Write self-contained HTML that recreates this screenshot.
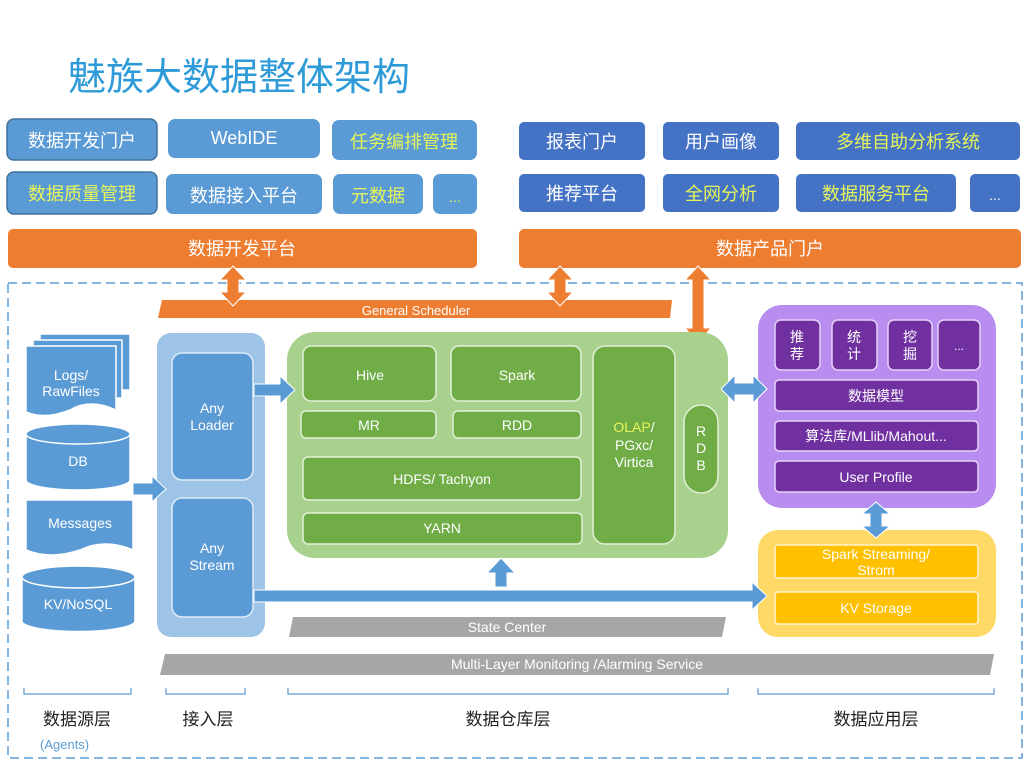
<!DOCTYPE html>
<html><head><meta charset="utf-8"><style>
html,body{margin:0;padding:0;background:#fff;width:1024px;height:768px;overflow:hidden}
svg text{font-family:"Liberation Sans","Noto Sans CJK SC",sans-serif}
</style></head><body>
<svg width="1024" height="768" viewBox="0 0 1024 768" xmlns="http://www.w3.org/2000/svg">
<text x="68" y="90" font-size="38" fill="#2e9ad8">魅族大数据整体架构</text>

<g font-size="18" text-anchor="middle">
<rect x="7" y="119" width="150" height="41" rx="7" fill="#5b9bd5" stroke="#41719c" stroke-width="1.5"/>
<text x="82" y="147" fill="#fff">数据开发门户</text>
<rect x="168" y="119" width="152" height="39" rx="7" fill="#5b9bd5"/>
<text x="244" y="144" fill="#fff">WebIDE</text>
<rect x="332" y="120" width="145" height="40" rx="7" fill="#5b9bd5"/>
<text x="404" y="148" fill="#e6f55a">任务编排管理</text>
<rect x="7" y="172" width="150" height="42" rx="7" fill="#5b9bd5" stroke="#41719c" stroke-width="1.5"/>
<text x="82" y="200" fill="#e6f55a">数据质量管理</text>
<rect x="166" y="174" width="156" height="40" rx="7" fill="#5b9bd5"/>
<text x="244" y="202" fill="#fff">数据接入平台</text>
<rect x="333" y="174" width="90" height="40" rx="7" fill="#5b9bd5"/>
<text x="378" y="202" fill="#e6f55a">元数据</text>
<rect x="433" y="174" width="44" height="40" rx="7" fill="#5b9bd5"/>
<text x="455" y="202" fill="#e6f55a" font-size="14">...</text>

<rect x="519" y="122" width="126" height="38" rx="5" fill="#4472c4"/>
<text x="582" y="148" fill="#fff">报表门户</text>
<rect x="663" y="122" width="116" height="38" rx="5" fill="#4472c4"/>
<text x="721" y="148" fill="#fff">用户画像</text>
<rect x="796" y="122" width="224" height="38" rx="5" fill="#4472c4"/>
<text x="908" y="148" fill="#e6f55a">多维自助分析系统</text>
<rect x="519" y="174" width="126" height="38" rx="5" fill="#4472c4"/>
<text x="582" y="200" fill="#fff">推荐平台</text>
<rect x="663" y="174" width="116" height="38" rx="5" fill="#4472c4"/>
<text x="721" y="200" fill="#e6f55a">全网分析</text>
<rect x="796" y="174" width="160" height="38" rx="5" fill="#4472c4"/>
<text x="876" y="200" fill="#e6f55a">数据服务平台</text>
<rect x="970" y="174" width="50" height="38" rx="5" fill="#4472c4"/>
<text x="995" y="200" fill="#fff" font-size="14">...</text>

<rect x="8" y="229" width="469" height="39" rx="5" fill="#ed7d31"/>
<text x="242" y="255" fill="#fff">数据开发平台</text>
<rect x="519" y="229" width="502" height="39" rx="5" fill="#ed7d31"/>
<text x="770" y="255" fill="#fff">数据产品门户</text>
</g>

<rect x="8" y="283" width="1014" height="475" fill="none" stroke="#5b9bd5" stroke-width="1.5" stroke-dasharray="9,5"/>

<polygon points="162,300 672,300 670,318 158,318" fill="#ed7d31"/>
<text x="416" y="315" font-size="13" fill="#fff" text-anchor="middle">General Scheduler</text>

<g fill="#ed7d31" stroke="#fff" stroke-width="1">
<polygon points="233,266 246,280 239,280 239,292 246,292 233,306 220,292 227,292 227,280 220,280"/>
<polygon points="560,266 573,280 566,280 566,292 573,292 560,306 547,292 554,292 554,280 547,280"/>
<polygon points="698,266 711,280 704,280 704,328 711,328 698,343 685,328 692,328 692,280 685,280"/>
</g>

<g fill="#5b9bd5" stroke="#fff" stroke-width="1.5">
<path d="M40,334 H130 V390 H40 Z"/>
<path d="M33,340 H122 V398 H33 Z"/>
<path d="M26,346 H116 V410 Q90,398 70,410 Q45,420 26,412 Z"/>
<path d="M26,434 V480 A52,10 0 0 0 130,480 V434 Z"/>
<ellipse cx="78" cy="434" rx="52" ry="10"/>
<path d="M26,500 H133 V550 Q105,538 80,550 Q50,560 26,550 Z"/>
<path d="M22,577 V622 A57,11 0 0 0 135,622 V577 Z"/>
<ellipse cx="78.5" cy="577" rx="56.5" ry="11"/>
</g>
<g font-size="14" fill="#fff" text-anchor="middle">
<text x="71" y="380">Logs/</text><text x="71" y="396">RawFiles</text>
<text x="78" y="466">DB</text>
<text x="80" y="528">Messages</text>
<text x="78" y="609">KV/NoSQL</text>
</g>

<rect x="157" y="333" width="108" height="304" rx="14" fill="#9dc3e6"/>
<rect x="172" y="353" width="81" height="127" rx="10" fill="#5b9bd5" stroke="#deebf7" stroke-width="1.5"/>
<rect x="172" y="498" width="81" height="119" rx="10" fill="#5b9bd5" stroke="#deebf7" stroke-width="1.5"/>
<g font-size="14" fill="#fff" text-anchor="middle">
<text x="212" y="413">Any</text><text x="212" y="430">Loader</text>
<text x="212" y="553">Any</text><text x="212" y="570">Stream</text>
</g>

<rect x="287" y="332" width="441" height="226" rx="28" fill="#a9d18e"/>
<g fill="#70ad47" stroke="#e2f0d9" stroke-width="1.5">
<rect x="303" y="346" width="133" height="55" rx="8"/>
<rect x="451" y="346" width="130" height="55" rx="8"/>
<rect x="301" y="411" width="135" height="27" rx="5"/>
<rect x="453" y="411" width="128" height="27" rx="5"/>
<rect x="303" y="457" width="278" height="43" rx="5"/>
<rect x="303" y="513" width="279" height="31" rx="5"/>
<rect x="593" y="346" width="82" height="198" rx="12"/>
<rect x="684" y="405" width="34" height="88" rx="17"/>
</g>
<g font-size="14" fill="#fff" text-anchor="middle">
<text x="370" y="380">Hive</text>
<text x="517" y="380">Spark</text>
<text x="369" y="430">MR</text>
<text x="517" y="430">RDD</text>
<text x="442" y="484">HDFS/ Tachyon</text>
<text x="442" y="533">YARN</text>
<text x="634" y="432"><tspan fill="#e6f55a">OLAP</tspan>/</text>
<text x="634" y="450">PGxc/</text>
<text x="634" y="467">Virtica</text>
<text x="701" y="436">R</text><text x="701" y="453">D</text><text x="701" y="470">B</text>
</g>

<rect x="758" y="305" width="238" height="203" rx="24" fill="#b98cf0"/>
<g fill="#7030a0" stroke="#e4d3f7" stroke-width="1.5">
<rect x="775" y="320" width="45" height="50" rx="6"/>
<rect x="832" y="320" width="45" height="50" rx="6"/>
<rect x="888" y="320" width="44" height="50" rx="6"/>
<rect x="938" y="320" width="42" height="50" rx="6"/>
<rect x="775" y="380" width="203" height="31" rx="4"/>
<rect x="775" y="421" width="203" height="30" rx="4"/>
<rect x="775" y="461" width="203" height="31" rx="4"/>
</g>
<g font-size="14" fill="#fff" text-anchor="middle">
<text x="797" y="342">推</text><text x="797" y="359">荐</text>
<text x="854" y="342">统</text><text x="854" y="359">计</text>
<text x="910" y="342">挖</text><text x="910" y="359">掘</text>
<text x="959" y="350" font-size="12">...</text>
<text x="876" y="401">数据模型</text>
<text x="876" y="441">算法库/MLlib/Mahout...</text>
<text x="876" y="482">User Profile</text>
</g>

<rect x="758" y="530" width="238" height="107" rx="20" fill="#ffd966"/>
<g fill="#ffc000" stroke="#fff2cc" stroke-width="1.5">
<rect x="775" y="545" width="203" height="33" rx="3"/>
<rect x="775" y="592" width="203" height="32" rx="3"/>
</g>
<g font-size="14" fill="#fff" text-anchor="middle">
<text x="876" y="559">Spark Streaming/</text>
<text x="876" y="575">Strom</text>
<text x="876" y="613">KV Storage</text>
</g>

<!-- blue arrows (drawn on top) -->
<g fill="#5b9bd5" stroke="#fff" stroke-width="1">
<polygon points="133,483 152,483 152,476 166,489 152,502 152,495 133,495"/>
<polygon points="254,384 280,384 280,376 295,390 280,404 280,396 254,396"/>
<polygon points="254,590 752,590 752,582 767,596 752,610 752,602 254,602"/>
<polygon points="495,587 495,573 487,573 501,558 515,573 507,573 507,587"/>
<polygon points="721,389 735,375 735,383 753,383 753,375 767,389 753,403 753,395 735,395 735,403"/>
<polygon points="876,502 890,514 882,514 882,526 890,526 876,538 862,526 870,526 870,514 862,514"/>
</g>

<polygon points="293,617 726,617 722,637 289,637" fill="#a6a6a6"/>
<text x="507" y="632" font-size="14" fill="#fff" text-anchor="middle">State Center</text>
<polygon points="165,654 994,654 990,675 160,675" fill="#a6a6a6"/>
<text x="577" y="669" font-size="14" fill="#fff" text-anchor="middle">Multi-Layer Monitoring /Alarming Service</text>

<g stroke="#5b9bd5" stroke-width="1.2" fill="none">
<path d="M24,688 V694 H131 V688"/>
<path d="M166,688 V694 H245 V688"/>
<path d="M288,688 V694 H728 V688"/>
<path d="M758,688 V694 H994 V688"/>
</g>
<g font-size="17" fill="#222" text-anchor="middle">
<text x="77" y="725">数据源层</text>
<text x="208" y="725">接入层</text>
<text x="508" y="725">数据仓库层</text>
<text x="876" y="725">数据应用层</text>
</g>
<text x="40" y="749" font-size="13" fill="#5b9bd5">(Agents)</text>
</svg>
</body></html>
